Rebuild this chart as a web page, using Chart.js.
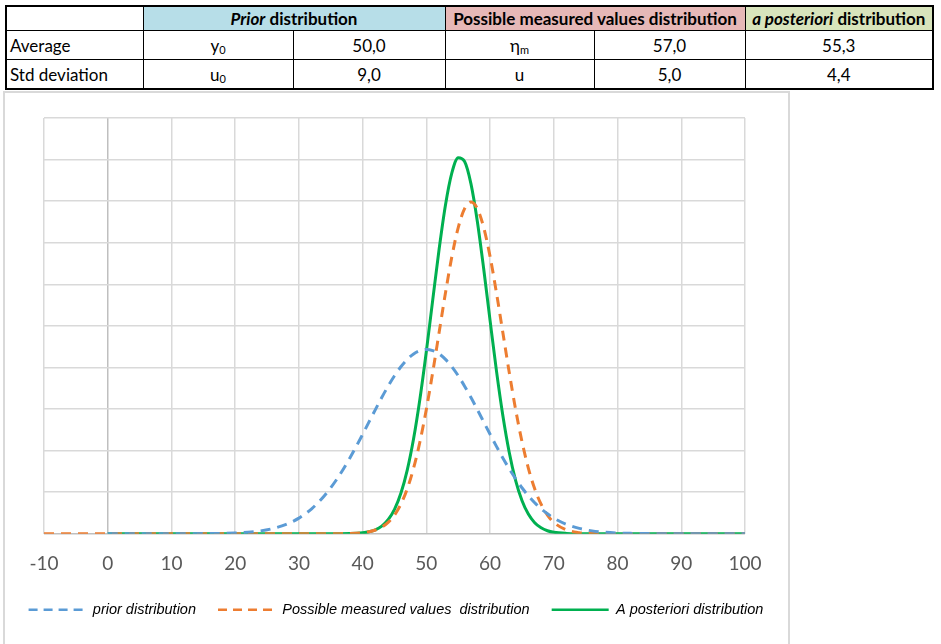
<!DOCTYPE html>
<html>
<head>
<meta charset="utf-8">
<script src="https://cdn.jsdelivr.net/npm/chart.js@4.4.1/dist/chart.umd.min.js"></script>
<style>
body { margin: 0; background: #fff; width: 941px; height: 644px; overflow: hidden; position: relative; font-family: Lato, sans-serif; }
table { position: absolute; left: 5px; top: 5px; border-collapse: collapse; font-size: 17px; border: 2px solid #000; color: #000; }
td { border: 1px solid #000; padding: 0 3px; height: 28px; text-align: center; }
tr.head td { height: 23px; font-weight: bold; }
td.lbl { text-align: left; }
sub { font-size: 11px; vertical-align: -2px; }
#box { position: absolute; left: 3px; top: 91px; width: 787px; height: 570px; border: 2px solid #d9d9d9; box-sizing: border-box; }
#wrap { position: absolute; left: 5px; top: 93px; width: 782px; height: 551px; }
</style>
</head>
<body>
<table>
  <colgroup><col style="width:137px"><col style="width:150px"><col style="width:152px"><col style="width:149px"><col style="width:151px"><col style="width:188px"></colgroup>
  <tr class="head">
    <td></td>
    <td colspan="2" style="background:#b7dee8"><i>Prior</i> distribution</td>
    <td colspan="2" style="background:#e6b8b7">Possible measured values distribution</td>
    <td style="background:#d8e4bc"><i>a posteriori</i> distribution</td>
  </tr>
  <tr>
    <td class="lbl">Average</td><td>y<sub>0</sub></td><td>50,0</td><td>η<sub>m</sub></td><td>57,0</td><td>55,3</td>
  </tr>
  <tr>
    <td class="lbl">Std deviation</td><td>u<sub>0</sub></td><td>9,0</td><td>u</td><td>5,0</td><td>4,4</td>
  </tr>
</table>
<div id="box"></div>
<div id="wrap"><canvas id="myChart"></canvas></div>
<script>
// x positions of the read points (denser around the peaks)
const xs = [-10, -5, 0, 5, 10, 15, 20, 22, 24, 26, 28, 30, 32, 34, 36, 38,
    40, 41, 42, 43, 44, 45, 46, 47, 48, 49, 50, 51, 52, 53, 54, 55, 56, 57, 58, 59,
    60, 61, 62, 63, 64, 65, 66, 67, 68, 69, 70,
    72, 74, 76, 78, 80, 82, 84, 86, 90, 95, 100];

const prior = [null, null, 0, 0, 0, 0.00002, 0.00017, 0.00035, 0.00068, 0.00127, 0.00224, 0.00375, 0.00600, 0.00913, 0.01322, 0.01822,
    0.02391, 0.02689, 0.02986, 0.03276, 0.03549, 0.03799, 0.04016, 0.04193, 0.04325, 0.04405, 0.04433, 0.04405, 0.04325, 0.04193, 0.04016, 0.03799, 0.03549, 0.03276, 0.02986, 0.02689,
    0.02391, 0.02100, 0.01822, 0.01562, 0.01322, 0.01105, 0.00913, 0.00745, 0.00600, 0.00478, 0.00375,
    0.00224, 0.00127, 0.00068, 0.00035, 0.00017, 0.00008, 0.00004, 0.00001, 0, 0, 0];

const measured = [0, 0, 0, 0, 0, 0, 0, 0, 0, 0, 0, 0, 0, 0, 0.00001, 0.00006,
    0.00025, 0.00048, 0.00089, 0.00158, 0.00272, 0.00448, 0.00710, 0.01080, 0.01579, 0.02218, 0.02995, 0.03884, 0.04839, 0.05794, 0.06665, 0.07365, 0.07821, 0.07979, 0.07821, 0.07365,
    0.06665, 0.05794, 0.04839, 0.03884, 0.02995, 0.02218, 0.01579, 0.01080, 0.00710, 0.00448, 0.00272,
    0.00089, 0.00025, 0.00006, 0.00001, 0, 0, 0, 0, 0, 0, 0];

const posterior = [null, null, 0, 0, 0, 0, 0, 0, 0, 0, 0, 0, 0, 0, 0.00001, 0.00004,
    0.00022, 0.00046, 0.00094, 0.00182, 0.00335, 0.00585, 0.00971, 0.01530, 0.02289, 0.03253, 0.04389, 0.05624, 0.06844, 0.07909, 0.08680, 0.09046, 0.08953, 0.08415, 0.07511, 0.06367,
    0.05125, 0.03918, 0.02844, 0.01961, 0.01284, 0.00798, 0.00471, 0.00264, 0.00141, 0.00071, 0.00034,
    0.00007, 0.00001, 0, 0, 0, 0, 0, 0, 0, 0, 0];

const seriesNames = ['prior distribution', 'Possible measured values  distribution', 'A posteriori distribution'];
const xTicks = [-10, 0, 10, 20, 30, 40, 50, 60, 70, 80, 90, 100];

function toPoints(ys) {
    const pts = [];
    ys.forEach((y, i) => { if (y !== null) pts.push({ x: xs[i], y: y }); });
    return pts;
}

const gridColor = (c) => c.tick && c.tick.value === 0 ? '#bfbfbf' : '#d9d9d9';

const ctx = document.getElementById('myChart').getContext('2d');
const myChart = new Chart(ctx, {
    type: 'scatter',
    data: {
        datasets: [{
            label: seriesNames[0],
            data: toPoints(prior),
            showLine: true,
            borderColor: '#5b9bd5',
            backgroundColor: '#5b9bd5',
            borderWidth: 3,
            borderDash: [10, 7],
            pointRadius: 0,
            cubicInterpolationMode: 'monotone'
        }, {
            label: seriesNames[1],
            data: toPoints(measured),
            showLine: true,
            borderColor: '#ed7d31',
            backgroundColor: '#ed7d31',
            borderWidth: 3,
            borderDash: [10, 7],
            pointRadius: 0,
            cubicInterpolationMode: 'monotone'
        }, {
            label: seriesNames[2],
            data: toPoints(posterior),
            showLine: true,
            borderColor: '#00b050',
            backgroundColor: '#00b050',
            borderWidth: 3,
            pointRadius: 0,
            cubicInterpolationMode: 'monotone'
        }]
    },
    options: {
        responsive: true,
        maintainAspectRatio: false,
        animation: false,
        layout: {
            padding: { left: 0, right: 0, top: 25, bottom: 17 }
        },
        scales: {
            x: {
                type: 'linear',
                min: -10,
                max: 100,
                afterBuildTicks: (scale) => { scale.ticks = xTicks.map(v => ({ value: v })); },
                ticks: {
                    color: '#595959',
                    font: { family: 'Lato', size: 19 },
                    padding: 19
                },
                grid: { drawTicks: false, lineWidth: 1.5, color: gridColor },
                border: { display: false },
                afterFit: (scale) => { scale.height -= 14; }
            },
            y: {
                min: 0,
                max: 0.1,
                ticks: { display: false, stepSize: 0.01 },
                grid: { drawTicks: false, lineWidth: 1.5, color: gridColor },
                border: { display: false },
                afterFit: (scale) => { scale.width = 39; }
            },
            yRight: {
                position: 'right',
                min: 0,
                max: 0.1,
                ticks: { display: false },
                grid: { display: false, drawTicks: false },
                border: { display: false },
                afterFit: (scale) => { scale.width = 42; }
            }
        },
        plugins: {
            legend: {
                position: 'bottom',
                labels: {
                    usePointStyle: true,
                    pointStyle: 'line',
                    pointStyleWidth: 57,
                    boxHeight: 12,
                    padding: 22,
                    color: '#000',
                    font: { family: 'Liberation Sans', size: 14.5, style: 'italic' },
                    generateLabels: (chart) => {
                        const items = Chart.defaults.plugins.legend.labels.generateLabels(chart);
                        items.forEach(it => {
                            const ds = chart.data.datasets[it.datasetIndex];
                            it.lineWidth = 2.5;
                            it.pointStyle = 'line';
                            it.strokeStyle = ds.borderColor;
                            it.lineDash = ds.borderDash ? [9, 6] : [];
                        });
                        return items;
                    }
                }
            },
            tooltip: { enabled: false }
        }
    }
});
</script>
</body>
</html>
